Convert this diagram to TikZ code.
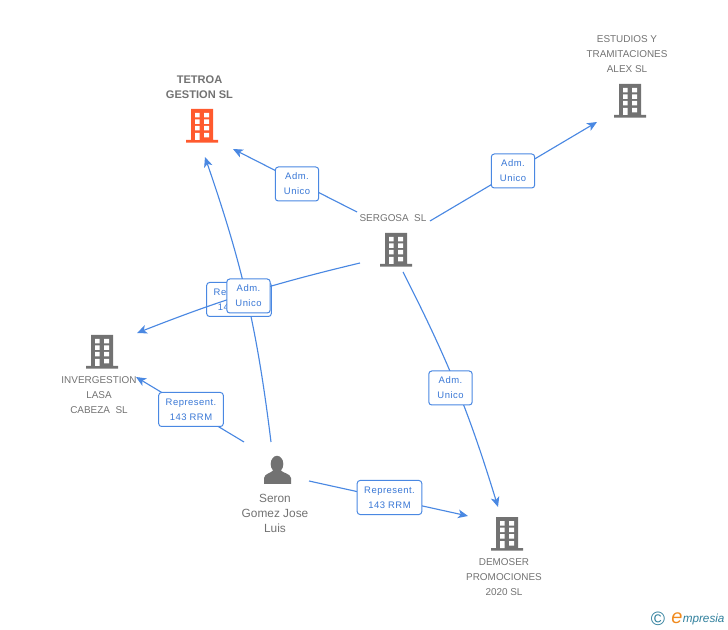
\documentclass[tikz,border=0pt]{standalone}
\usepackage{fontspec}
\setmainfont{Liberation Sans}
\usepackage{tikz}
\usetikzlibrary{arrows.meta}
\definecolor{linkblue}{HTML}{4A88E2}
\definecolor{tagblue}{HTML}{3A78D6}
\definecolor{icongray}{HTML}{727272}
\definecolor{iconred}{HTML}{FF5A2E}
\definecolor{logoteal}{HTML}{2F7F9C}
\definecolor{logoorange}{HTML}{F08A1E}
\tikzset{
link/.style={draw=linkblue,line width=0.85pt,-{Stealth[length=7.5pt,width=6.5pt,inset=2pt]}},
tag/.style={draw=linkblue,fill=white,line width=0.75pt,rounded corners=2.2pt,inner sep=0pt,text=tagblue,font=\fontsize{7.1}{11.2}\selectfont\addfontfeature{LetterSpace=5},align=center,minimum height=25.5pt},
admtag/.style={tag,minimum width=32.5pt},
reptag/.style={tag,minimum width=48.5pt},
caption/.style={text=icongray,font=\fontsize{7.45}{11.25}\selectfont,align=center,inner sep=0pt},
building/.pic={
\fill[#1] (-11,-17) rectangle (11,14) (-16,14) rectangle (16,16.6);
\foreach \wy in {-13,-6.5,0} {
\fill[white] (-7,\wy) rectangle (-2.5,\wy+4.5) (2,\wy) rectangle (7,\wy+4.5);
}
\fill[white] (-7,7) rectangle (-2.5,14) (2,7) rectangle (7,11.5);
}
}
\begin{document}
\begin{tikzpicture}[x=0.75pt,y=-0.75pt]
\useasboundingbox (0,0) rectangle (728,630);

\pic at (202,126) {building=iconred};
\pic at (630,101) {building=icongray};
\pic at (396,250) {building=icongray};
\pic at (102,352) {building=icongray};
\pic at (507,534) {building=icongray};
\fill[icongray] (277,464) ellipse (6.3 and 8.2);
\fill[icongray] (264,484) -- (264,478) .. controls (265,473) and (271,473.5) .. (273.5,470) -- (280.5,470) .. controls (283,473.5) and (290,473) .. (291,478) -- (291,484) -- cycle;

\node[caption,font=\fontsize{8.3}{11.25}\selectfont\bfseries] (tetroa) at (199.5,87) {TETROA\\GESTION SL};
\node[caption] (estudios) at (627,54) {ESTUDIOS Y\\TRAMITACIONES\\ALEX SL};
\node[caption] (sergosa) at (393,218) {SERGOSA\ \ SL};
\node[caption] (invergestion) at (99,395) {INVERGESTION\\LASA\\CABEZA\ \ SL};
\node[caption,font=\fontsize{8.9}{11.25}\selectfont] (seron) at (275,513) {Seron\\Gomez Jose\\Luis};
\node[caption] (demoser) at (504,577) {DEMOSER\\PROMOCIONES\\2020 SL};

\coordinate (tetroa-in1) at (233,149);
\coordinate (tetroa-in2) at (205,157);
\coordinate (estudios-in) at (597,122);
\coordinate (invergestion-in1) at (137,333);
\coordinate (invergestion-in2) at (136,377);
\coordinate (demoser-in1) at (498,507);
\coordinate (demoser-in2) at (468,516);
\coordinate (sergosa-out1) at (357,212);
\coordinate (sergosa-out2) at (430,221);
\coordinate (sergosa-out3) at (360,263);
\coordinate (sergosa-out4) at (403,272);
\coordinate (seron-out1) at (271,442);
\coordinate (seron-out2) at (244,442);
\coordinate (seron-out3) at (309,481);

\draw[link] (sergosa-out1) -- (tetroa-in1);
\draw[link] (sergosa-out2) -- (estudios-in);
\draw[link] (sergosa-out4) to[bend left=5] (demoser-in1);
\draw[link] (seron-out1) to[bend right=6] (tetroa-in2);
\draw[link] (seron-out2) -- (invergestion-in2);
\draw[link] (seron-out3) -- (demoser-in2);

\node[reptag] (rep1) at (239,299.5) {Represent.\\143 RRM};
\draw[link] (sergosa-out3) to[bend right=4] (invergestion-in1);

\node[admtag] (adm1) at (297,184) {Adm.\\Unico};
\node[admtag] (adm2) at (513,171) {Adm.\\Unico};
\node[admtag] (adm3) at (248.5,296) {Adm.\\Unico};
\node[admtag] (adm4) at (450.5,388) {Adm.\\Unico};
\node[reptag] (rep2) at (191,409.5) {Represent.\\143 RRM};
\node[reptag] (rep3) at (389.5,497.5) {Represent.\\143 RRM};

\node[text=logoteal,font=\fontsize{14.5}{14.5}\selectfont,inner sep=0pt] (logoc) at (658,619) {©};
\node[text=logoorange,font=\fontsize{15}{15}\selectfont\itshape,inner sep=0pt] (logoe) at (677,618) {e};
\node[text=logoteal,font=\fontsize{8.8}{9}\selectfont\itshape,inner sep=0pt,anchor=west] (logotext) at (682.5,619.5) {mpresia};
\end{tikzpicture}
\end{document}
